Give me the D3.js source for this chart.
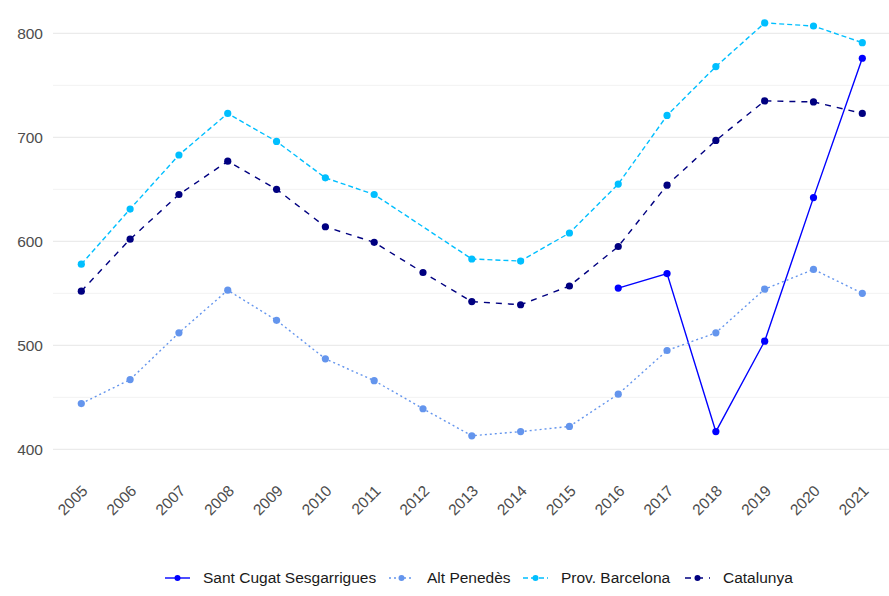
<!DOCTYPE html>
<html>
<head>
<meta charset="utf-8">
<script src="https://cdn.jsdelivr.net/npm/d3@7"></script>
<style>
  html, body { margin: 0; padding: 0; background: #fff; }
  svg { display: block; font-family: "Liberation Sans", Arial, sans-serif; }
</style>
</head>
<body>
<svg id="chart" width="889" height="596"></svg>
<script>
// Years on the x axis
const years = [2005, 2006, 2007, 2008, 2009, 2010, 2011, 2012, 2013,
               2014, 2015, 2016, 2017, 2018, 2019, 2020, 2021];

// Series values (null = no data for that year)
const santCugat = [null, null, null, null, null, null, null, null, null,
                   null, null, 555, 569, 417, 504, 642, 776];
const altPenedes = [444, 467, 512, 553, 524, 487, 466, 439, 413,
                    417, 422, 453, 495, 512, 554, 573, 550];
const provBarcelona = [578, 631, 683, 723, 696, 661, 645, null, 583,
                       581, 608, 655, 721, 768, 810, 807, 791];
const catalunya = [552, 602, 645, 677, 650, 614, 599, 570, 542,
                   539, 557, 595, 654, 697, 735, 734, 723];

const seriesNames = ["Sant Cugat Sesgarrigues", "Alt Penedès", "Prov. Barcelona", "Catalunya"];
const yTicks = [400, 500, 600, 700, 800];
const yMinor = [450, 550, 650, 750];

const seriesStyle = [
  { color: "#0000FF", dash: null },
  { color: "#6495ED", dash: "2,3" },
  { color: "#00BFFF", dash: "5,3" },
  { color: "#000080", dash: "6,6" }
];

const seriesData = [santCugat, altPenedes, provBarcelona, catalunya].map((vals, i) => ({
  name: seriesNames[i],
  style: seriesStyle[i],
  points: years.map((y, j) => ({ year: y, value: vals[j] })).filter(d => d.value != null)
}));

const svg = d3.select("#chart");
const panel = { left: 53, right: 889 };

const x = d3.scaleLinear().domain([2005, 2021]).range([81.3, 862.3]);
const y = d3.scaleLinear().domain([400, 800]).range([449.3, 33.3]);

// Grid lines
const grid = svg.append("g");
grid.selectAll("line.minor").data(yMinor).join("line")
  .attr("x1", panel.left).attr("x2", panel.right)
  .attr("y1", d => y(d)).attr("y2", d => y(d))
  .attr("stroke", "#f2f2f2").attr("stroke-width", 1);
grid.selectAll("line.major").data(yTicks).join("line")
  .attr("x1", panel.left).attr("x2", panel.right)
  .attr("y1", d => y(d)).attr("y2", d => y(d))
  .attr("stroke", "#ebebeb").attr("stroke-width", 1.2);

// Y axis labels
const yAxis = d3.axisLeft(y).tickValues(yTicks).tickSize(0).tickPadding(0);
const yg = svg.append("g").attr("transform", "translate(43,0)").call(yAxis);
yg.select(".domain").remove();
yg.selectAll("text")
  .attr("fill", "#4d4d4d").style("font-size", "15.5px")
  .style("font-family", "'Liberation Sans', Arial, sans-serif");

// X axis labels, rotated
const xAxis = d3.axisBottom(x).tickValues(years).tickFormat(d3.format("d")).tickSize(0).tickPadding(0);
const xg = svg.append("g").attr("transform", "translate(0,488)").call(xAxis);
xg.select(".domain").remove();
xg.selectAll("text")
  .attr("fill", "#4d4d4d").style("font-size", "15.5px")
  .style("font-family", "'Liberation Sans', Arial, sans-serif")
  .attr("text-anchor", "end")
  .attr("dy", "0.35em")
  .attr("transform", "translate(3,0) rotate(-45)");

// Lines and points
const line = d3.line().x(d => x(d.year)).y(d => y(d.value));
const marks = svg.append("g");
seriesData.forEach(s => {
  marks.append("path")
    .datum(s.points)
    .attr("d", line)
    .attr("fill", "none")
    .attr("stroke", s.style.color)
    .attr("stroke-width", 1.4)
    .attr("stroke-dasharray", s.style.dash);
  marks.selectAll(null).data(s.points).join("circle")
    .attr("cx", d => x(d.year)).attr("cy", d => y(d.value))
    .attr("r", 3.6)
    .attr("fill", s.style.color);
});

// Legend
const legendX = [165, 389, 523, 685];
const legendY = 578;
const legend = svg.append("g");
seriesData.forEach((s, i) => {
  const g = legend.append("g").attr("transform", `translate(${legendX[i]},${legendY})`);
  g.append("line").attr("x1", 0).attr("x2", 25).attr("y1", 0).attr("y2", 0)
    .attr("stroke", s.style.color).attr("stroke-width", 1.4)
    .attr("stroke-dasharray", s.style.dash);
  g.append("circle").attr("cx", 12.5).attr("cy", 0).attr("r", 3).attr("fill", s.style.color);
  g.append("text").attr("x", 38).attr("y", 0).attr("dy", "0.35em")
    .attr("fill", "#1a1a1a").style("font-size", "15.5px")
    .text(s.name);
});
</script>
</body>
</html>
